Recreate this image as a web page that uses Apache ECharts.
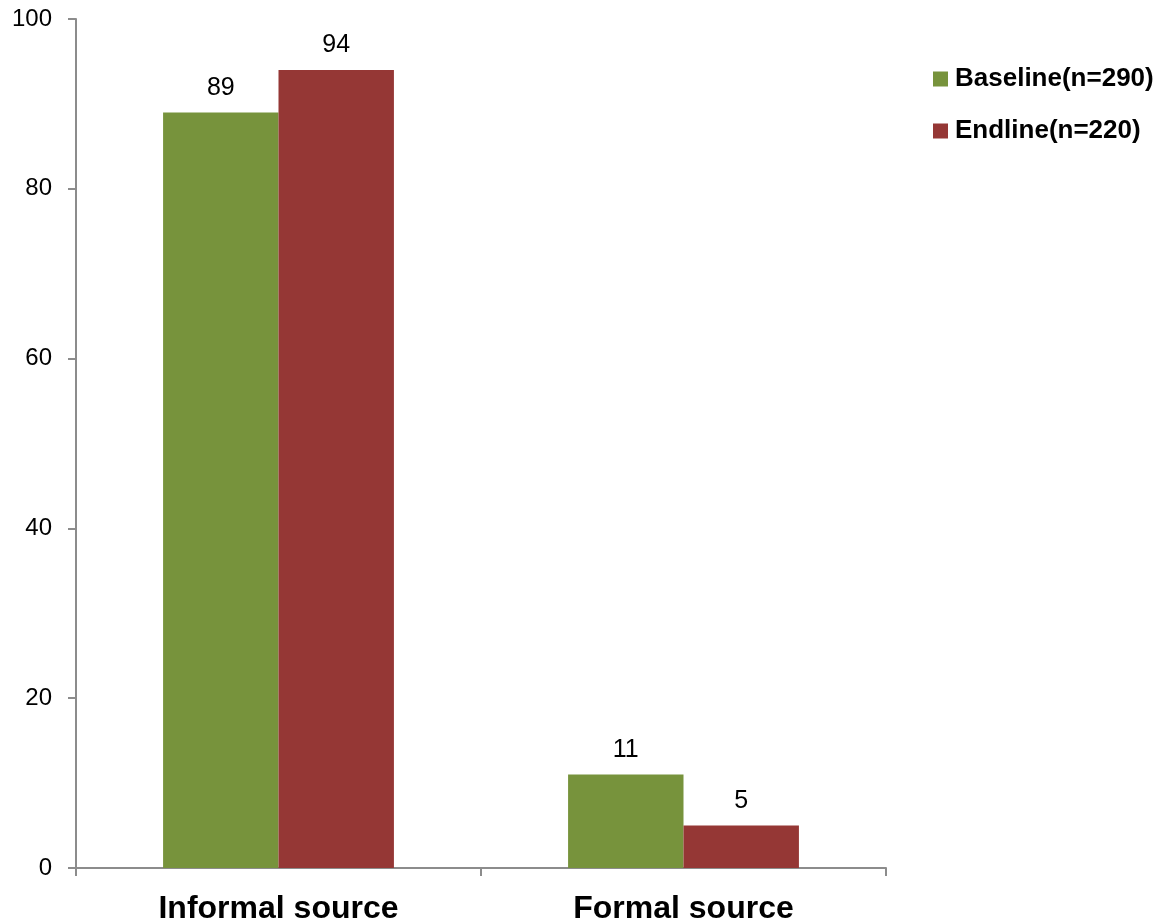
<!DOCTYPE html>
<html>
<head>
<meta charset="utf-8">
<script src="https://cdn.jsdelivr.net/npm/echarts@6/dist/echarts.min.js"></script>
<style>
  html, body { margin: 0; padding: 0; background: #fff; }
  #chart { width: 1162px; height: 923px; }
</style>
</head>
<body>
<div id="chart"></div>
<script>
// Share of respondents by information source (%)
const categories = ['Informal source', 'Formal source'];
const baseline = [89, 11];
const endline = [94, 5];
const seriesNames = ['Baseline(n=290)', 'Endline(n=220)'];
const yTicks = [0, 20, 40, 60, 80, 100];

const chart = echarts.init(document.getElementById('chart'));
const labelStyle = {
  show: true,
  position: 'top',
  distance: 12,
  color: '#000',
  fontFamily: 'Liberation Sans, Arial, sans-serif',
  fontSize: 25
};
chart.setOption({
  animation: false,
  grid: { left: 76, top: 19, right: 276, bottom: 55, containLabel: false, outerBoundsMode: 'none' },
  legend: {
    orient: 'vertical',
    left: 928,
    top: 61,
    itemWidth: 15,
    itemHeight: 15,
    itemGap: 26,
    icon: 'rect',
    textStyle: {
      fontFamily: 'Liberation Sans, Arial, sans-serif',
      fontWeight: 'bold',
      fontSize: 26,
      color: '#000',
      padding: [0, 0, 0, 2]
    },
    data: seriesNames
  },
  xAxis: {
    type: 'category',
    data: categories,
    axisLine: { lineStyle: { color: '#8c8c8c', width: 2 } },
    axisTick: { show: true, length: 8, lineStyle: { color: '#8c8c8c', width: 2 } },
    axisLabel: {
      margin: 25,
      color: '#000',
      fontFamily: 'Liberation Sans, Arial, sans-serif',
      fontWeight: 'bold',
      fontSize: 32
    }
  },
  yAxis: {
    type: 'value',
    min: 0,
    max: yTicks[yTicks.length - 1],
    interval: 20,
    splitLine: { show: false },
    axisLine: { show: true, lineStyle: { color: '#8c8c8c', width: 2 } },
    axisTick: { show: true, length: 8, lineStyle: { color: '#8c8c8c', width: 2 } },
    axisLabel: {
      margin: 24,
      color: '#000',
      fontFamily: 'Liberation Sans, Arial, sans-serif',
      fontSize: 24
    }
  },
  series: [
    {
      name: seriesNames[0],
      type: 'bar',
      data: baseline,
      barGap: '0%',
      barCategoryGap: '43%',
      itemStyle: { color: '#77933c' },
      label: labelStyle
    },
    {
      name: seriesNames[1],
      type: 'bar',
      data: endline,
      itemStyle: { color: '#953735' },
      label: labelStyle
    }
  ]
});
</script>
</body>
</html>
